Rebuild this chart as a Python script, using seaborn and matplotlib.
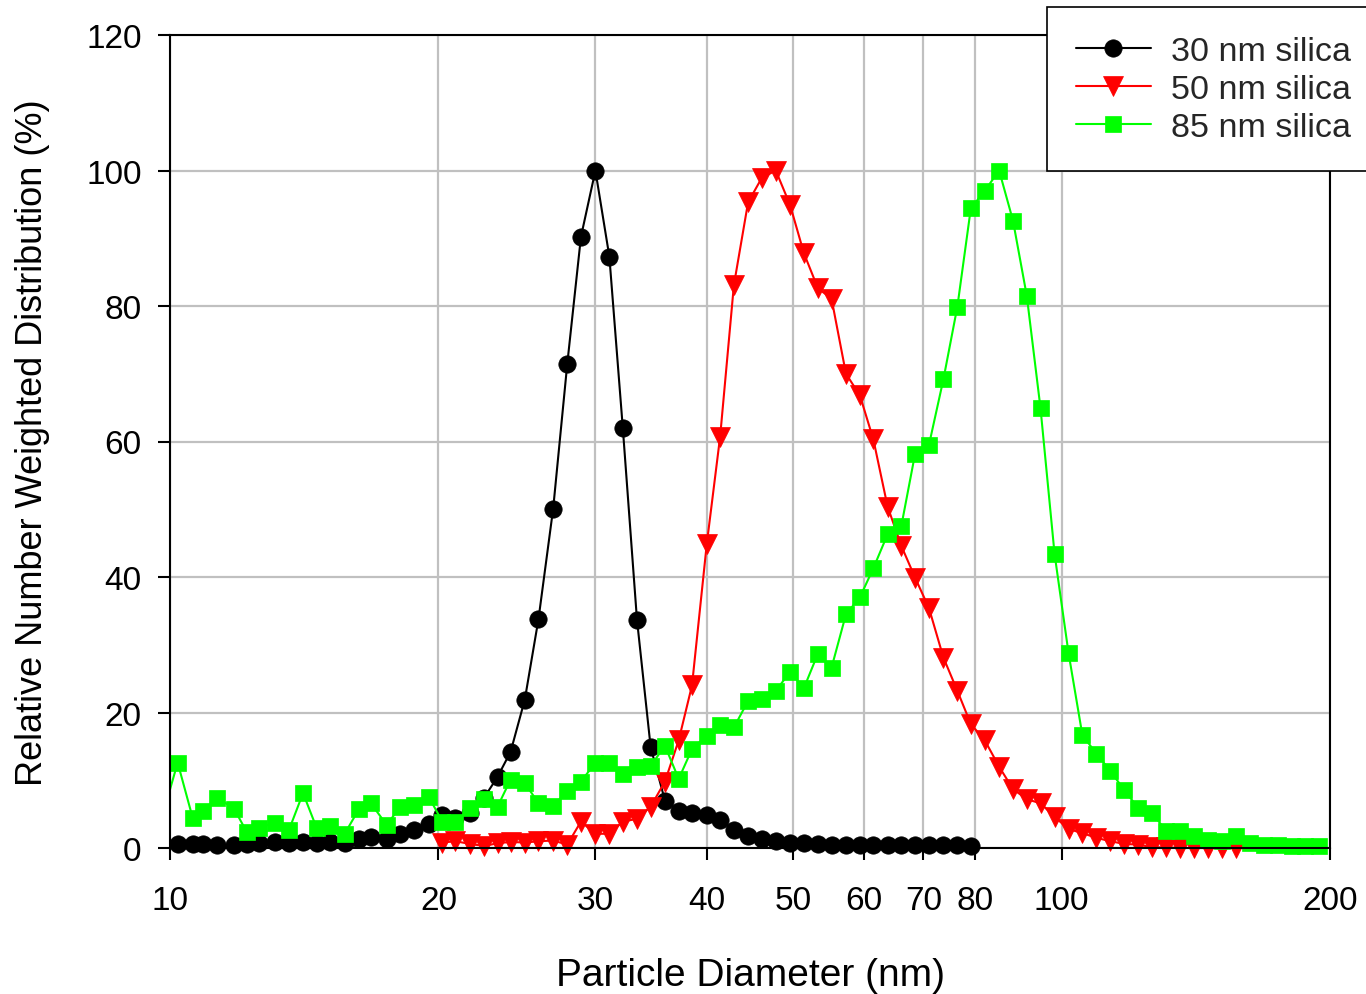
import matplotlib
matplotlib.use("Agg")
import matplotlib.pyplot as plt
from matplotlib.ticker import FixedLocator, FixedFormatter, NullLocator
import seaborn as sns
import pandas as pd

# channel midpoints (nm), 64 channels per decade, first one is just below 10 nm
diameter_nm = [9.8,
    10.2, 10.6, 10.9, 11.3, 11.8, 12.2, 12.6, 13.1, 13.6, 14.1,
    14.6, 15.1, 15.7, 16.3, 16.8, 17.5, 18.1, 18.8, 19.5, 20.2,
    20.9, 21.7, 22.5, 23.3, 24.1, 25.0, 25.9, 26.9, 27.9, 28.9,
    30.0, 31.1, 32.2, 33.4, 34.6, 35.9, 37.2, 38.5, 40.0, 41.4,
    42.9, 44.5, 46.1, 47.8, 49.6, 51.4, 53.3, 55.2, 57.3, 59.4,
    61.5, 63.8, 66.1, 68.5, 71.0, 73.7, 76.4, 79.1, 82.0, 85.1,
    88.2, 91.4, 94.7, 98.2, 101.8, 105.5, 109.4, 113.4, 117.6, 121.9,
    126.3, 131.0, 135.8, 140.7, 145.9, 151.2, 156.8, 162.5, 168.5, 174.7,
    181.1, 187.7, 194.6]

# 30 nm silica: 10.2 .. 79.1 nm
silica30 = [0.6, 0.6, 0.6, 0.4, 0.5, 0.6, 0.8, 0.9, 0.7, 0.9,
            0.8, 0.9, 0.8, 1.4, 1.6, 1.3, 2.0, 2.6, 3.6, 4.8,
            4.5, 5.2, 7.4, 10.5, 14.2, 21.9, 33.8, 50.1, 71.5, 90.2,
            100.0, 87.3, 62.0, 33.7, 14.9, 7.0, 5.5, 5.2, 4.9, 4.2,
            2.7, 1.7, 1.3, 1.1, 0.7, 0.7, 0.6, 0.5, 0.5, 0.5,
            0.5, 0.4, 0.4, 0.4, 0.4, 0.4, 0.4, 0.3]

# 50 nm silica: 20.2 .. 156.8 nm
silica50 = [0.8, 1.0, 0.6, 0.3, 0.7, 0.9, 0.8, 1.0, 1.1, 0.5,
            3.9, 2.1, 2.1, 3.9, 4.3, 6.1, 9.8, 15.9, 24.0, 44.9,
            60.7, 83.1, 95.3, 98.9, 100.0, 94.9, 87.8, 82.6, 81.1, 70.0,
            66.8, 60.3, 50.4, 44.6, 39.9, 35.4, 28.1, 23.2, 18.3, 15.9,
            12.0, 8.7, 7.2, 6.6, 4.6, 2.8, 2.2, 1.5, 1.0, 0.6,
            0.5, 0.1, 0.1, 0.0, 0.0, 0.0, 0.0, 0.0]

# 85 nm silica: 9.8 .. 194.6 nm
silica85 = [4.6,
            12.6, 4.5, 5.4, 7.4, 5.8, 2.3, 3.0, 3.7, 2.7, 8.1,
            3.0, 3.2, 2.1, 5.8, 6.6, 3.4, 6.0, 6.4, 7.6, 3.9,
            3.8, 5.9, 7.2, 6.1, 10.1, 9.6, 6.6, 6.2, 8.4, 9.8,
            12.6, 12.6, 10.9, 11.9, 12.1, 15.1, 10.2, 14.6, 16.6, 18.1,
            17.8, 21.7, 22.0, 23.2, 26.0, 23.6, 28.7, 26.6, 34.5, 37.0,
            41.3, 46.3, 47.5, 58.2, 59.5, 69.2, 79.9, 94.4, 97.0, 100.0,
            92.6, 81.5, 64.9, 43.4, 28.8, 16.7, 13.9, 11.4, 8.5, 5.9,
            5.2, 2.5, 2.5, 1.7, 1.2, 1.0, 1.8, 0.7, 0.5, 0.4,
            0.35, 0.3, 0.25]

xticks = [10, 20, 30, 40, 50, 60, 70, 80, 100, 200]
yticks = [0, 20, 40, 60, 80, 100, 120]

d30 = pd.DataFrame({"d": diameter_nm[1:1 + len(silica30)], "v": silica30})
d50 = pd.DataFrame({"d": diameter_nm[20:20 + len(silica50)], "v": silica50})
d85 = pd.DataFrame({"d": diameter_nm[:len(silica85)], "v": silica85})

sns.set_theme(style="whitegrid")
plt.rcParams["font.family"] = ["Liberation Sans", "DejaVu Sans"]

fig = plt.figure(figsize=(13.66, 9.95), dpi=100)
ax = fig.add_axes([170 / 1366, 146 / 995, 1160 / 1366, 813 / 995])

common = dict(linewidth=1.5, markeredgewidth=0.5, clip_on=False,
              estimator=None, sort=False)
sns.lineplot(data=d30, x="d", y="v", ax=ax, color="black", marker="o",
             markersize=12.5, markeredgecolor="black", label="30 nm silica", **common)
sns.lineplot(data=d50, x="d", y="v", ax=ax, color="#ff0000", marker="v",
             markersize=14, markeredgecolor="#ff0000", label="50 nm silica", **common)
# first green channel lies below 10 nm: only its line segment shows
sns.lineplot(data=d85.iloc[:2], x="d", y="v", ax=ax, color="#00ff00",
             linewidth=1.5, estimator=None, sort=False)
sns.lineplot(data=d85.iloc[1:], x="d", y="v", ax=ax, color="#00ff00", marker="s",
             markersize=12, markeredgecolor="#00ff00", label="85 nm silica", **common)

ax.set_xscale("log")
ax.set_xlim(10, 200)
ax.set_ylim(0, 120)
ax.xaxis.set_major_locator(FixedLocator(xticks))
ax.xaxis.set_major_formatter(FixedFormatter([str(t) for t in xticks]))
ax.xaxis.set_minor_locator(NullLocator())
ax.set_yticks(yticks)

ax.grid(True, color="#c0c0c0", linewidth=1.6)
ax.set_axisbelow(True)
for s in ax.spines.values():
    s.set_color("black")
    s.set_linewidth(1.5)
    s.set_visible(True)
ax.tick_params(axis="both", which="major", direction="out", length=8.5, width=1.5,
               color="black", labelsize=24, labelcolor="black")
ax.tick_params(axis="x", pad=18, bottom=True)
ax.tick_params(axis="y", pad=12, left=True)

ax.set_xlabel("Particle Diameter (nm)", fontsize=28, labelpad=30, color="black")
ax.set_ylabel("Relative Number Weighted Distribution (%)", fontsize=26,
              labelpad=26, color="black")

leg = ax.legend(loc="upper left", bbox_to_anchor=(1047 / 1366, 987 / 995),
                bbox_transform=fig.transFigure, borderaxespad=0, fontsize=24.5,
                frameon=True, fancybox=False, framealpha=1, edgecolor="black",
                handlelength=2.2, handletextpad=0.6, borderpad=0.85,
                labelspacing=0.2)
leg.get_frame().set_linewidth(1.2)

fig.savefig("out.png", dpi=100)
